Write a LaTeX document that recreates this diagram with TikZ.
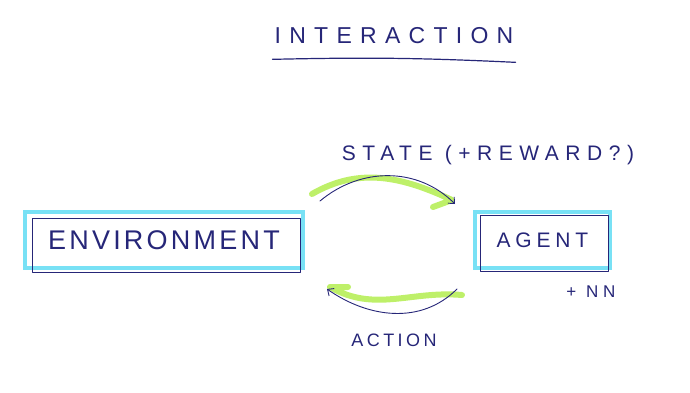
\documentclass[tikz,border=0pt]{standalone}
\usepackage{fontspec}
\usepackage{tikz}
\usetikzlibrary{arrows.meta, positioning, calc}
\setmainfont{Liberation Sans}
\definecolor{inkblue}{RGB}{38,38,120}
\definecolor{hlcyan}{RGB}{120,225,245}
\definecolor{hlgreen}{RGB}{190,240,105}
\newcommand{\hand}[3]{\fontsize{#1}{#2}\selectfont\addfontfeature{LetterSpace=#3}}
\tikzset{
  box/.style={draw=hlcyan, line width=4.5pt, inner sep=0pt, outer sep=0pt, text=inkblue},
  pen/.style={draw=inkblue, line width=0.9pt, line cap=round, line join=round},
  marker/.style={draw=hlgreen, line width=6pt, line cap=round, line join=round},
  lbl/.style={text=inkblue, inner sep=0pt},
}

\begin{document}
\begin{tikzpicture}[x=1pt, y=1pt, font=\hand{20}{24}{30}]
\useasboundingbox (0,0) rectangle (690,392);

% title
\node[lbl, font=\hand{23}{27}{36}] (title) at (394,356) {INTERACTION};
\draw[pen, line width=1.2pt] ($(title.south west)+(-2,-15)$) to[bend left=2] ($(title.south east)+(2,-18)$);

% the two boxes
\node[box, minimum width=278pt, minimum height=56pt, font=\hand{27}{31}{12}] (env) at (164,152) {ENVIRONMENT};
\draw[pen] ($(env.north west)+(7,-6)$) rectangle ($(env.south east)+(-3,-4)$);
\node[box, minimum width=135pt, minimum height=56pt, font=\hand{21}{25}{23}] (agent) at (542.5,152) {AGENT};
\draw[pen] ($(agent.north west)+(5,-3)$) rectangle ($(agent.south east)+(-2,-3)$);
\node[lbl, below=18pt of agent.south east, xshift=-19pt, font=\hand{17}{20}{29}] (nn) {+ NN};

% labels
\node[lbl, font=\hand{21}{25}{31}] (state) at (488,237) {STATE (+REWARD?)};
\node[lbl, font=\hand{18}{21}{19}] (action) at (394,52) {ACTION};

% state flow
\draw[marker] ($(env.north east)+(9,18)$) to[out=30, in=155] ($(agent.north west)+(-23,12)$) -- ($(agent.north west)+(-42,5)$);
\draw[pen, -{Straight Barb[length=5pt, width=9pt]}] ($(env.north east)+(17,11)$) to[out=40, in=135] ($(agent.north west)+(-20,8)$);

% action flow
\draw[marker] ($(agent.south west)+(-13,-27)$) to[out=175, in=-30] ($(env.south east)+(27,-19)$) -- ++(18,0);
\draw[pen, -{Straight Barb[length=5pt, width=9pt]}] ($(agent.south west)+(-18,-21)$) to[out=-135, in=-35] ($(env.south east)+(24,-21)$);
\end{tikzpicture}
\end{document}
